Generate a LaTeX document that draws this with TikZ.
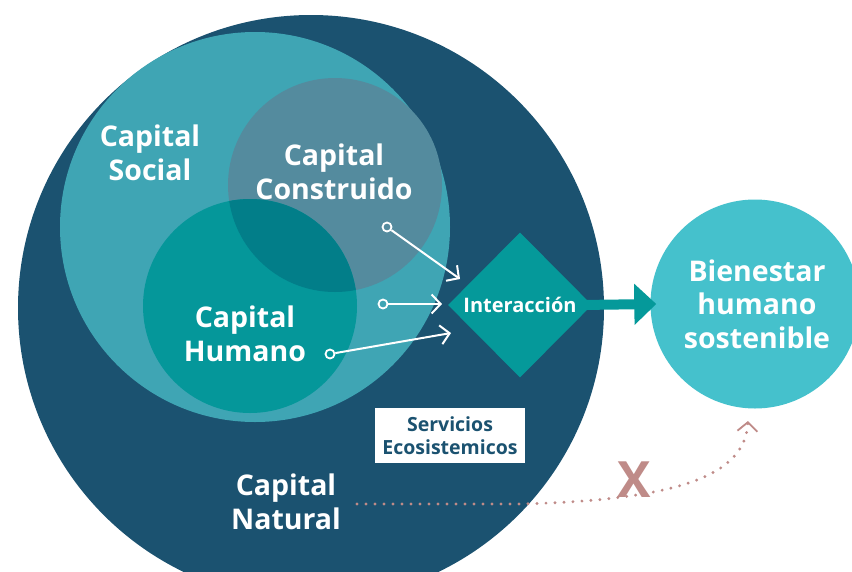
\documentclass[tikz,border=0pt]{standalone}
\usepackage{fontspec}
\setmainfont{Open Sans}
\usetikzlibrary{shapes.geometric,arrows.meta}
\definecolor{natural}{HTML}{1B5270}
\definecolor{social}{HTML}{3FA5B4}
\definecolor{construido}{HTML}{548B9E}
\definecolor{humano}{HTML}{05979A}
\definecolor{overlapc}{HTML}{027E89}
\definecolor{interc}{HTML}{05999A}
\definecolor{bienc}{HTML}{45C1CC}
\definecolor{pinkc}{HTML}{BF8B88}
\tikzset{
  disc/.style={circle, inner sep=0pt, draw=none},
  biglabel/.style={text=white, font=\bfseries\fontsize{28.5}{33.5}\selectfont, align=center, inner sep=0pt},
  ring/.style={circle, draw=white, line width=1.8pt, inner sep=0pt, minimum size=9pt},
  wlink/.style={draw=white, line width=2pt, -{Straight Barb[length=9pt,width=19pt]}},
  dotlink/.style={draw=pinkc, line width=3.2pt, line cap=round, dash pattern=on 0pt off 9pt, -{Straight Barb[length=9pt,width=20pt,line width=1.8pt]}}
}
\begin{document}
\begin{tikzpicture}[x=1pt,y=-1pt]
\clip (0,0) rectangle (852,571);
\fill[white] (0,0) rectangle (852,571);
% circles
\node[disc, fill=natural, minimum size=586pt] (nat) at (311,308) {};
\node[disc, fill=social, minimum size=390pt] (soc) at (255,227) {};
\node[disc, fill=construido, minimum size=214pt] (con) at (335,185) {};
\node[disc, fill=humano, minimum size=214pt] (hum) at (250,306) {};
\begin{scope}
  \clip (335,185) circle[radius=107pt];
  \fill[overlapc] (250,306) circle[radius=107pt];
\end{scope}
\node[disc, fill=bienc, minimum size=209pt] (bien) at (755,304) {};
% labels
\node[biglabel] (lsoc) at (150,153) {Capital\\Social};
\node[biglabel] (lcon) at (334,172) {Capital\\Construido};
\node[biglabel] (lhum) at (245,334) {Capital\\Humano};
\node[biglabel] (lnat) at (286,502) {Capital\\Natural};
\node[biglabel] (lbien) at (757,304) {Bienestar\\humano\\sostenible};
% diamond
\node[diamond, fill=interc, inner sep=0pt, minimum width=144pt, minimum height=145pt, text=white, font=\bfseries\fontsize{20}{22}\selectfont] (inter) at (520,305) {Interacción};
% big arrow
\draw[interc, line width=10pt, -{Triangle[length=22pt,width=40pt]}] ([xshift=-12pt]inter.east) -- ([xshift=6pt]bien.west);
% white links
\node[ring] (s1) at (387,227) {};
\node[ring] (s2) at (383,304) {};
\node[ring] (s3) at (330,354) {};
\coordinate (e1) at (460,279);
\coordinate (e2) at (442,304);
\coordinate (e3) at (451,333);
\draw[wlink] (s1) -- (e1);
\draw[wlink] (s2) -- (e2);
\draw[wlink] (s3) -- (e3);
% servicios box
\node[fill=white, minimum width=150pt, minimum height=55pt, inner sep=0pt, align=center, text=natural, font=\bfseries\fontsize{19.5}{23}\selectfont] (serv) at (450,435.5) {Servicios\\Ecosistemicos};
% dotted link
\coordinate (d0) at (357,504);
\coordinate (d1) at (520,504);
\coordinate (d2) at (748,421);
\draw[dotlink] (d0) -- (d1) .. controls (680,500) and (745,475) .. (d2);
\node[text=pinkc, font=\bfseries\fontsize{50}{50}\selectfont, inner sep=0pt] (xm) at (634.5,480) {X};
\end{tikzpicture}
\end{document}
